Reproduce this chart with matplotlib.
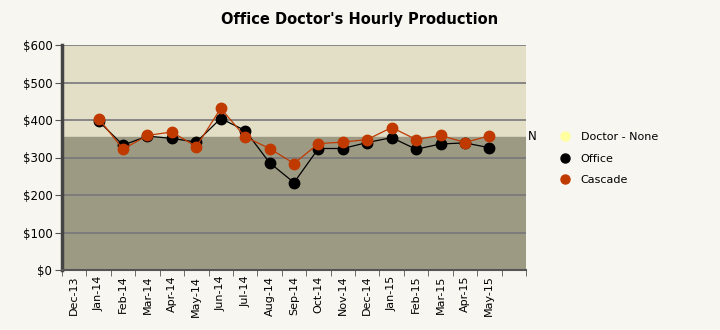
import numpy as np
import matplotlib.pyplot as plt
from matplotlib.lines import Line2D

# monthly hourly production, Dec-13 .. May-15 (Dec-13 has no data)
months = ['Dec-13', 'Jan-14', 'Feb-14', 'Mar-14', 'Apr-14', 'May-14', 'Jun-14',
          'Jul-14', 'Aug-14', 'Sep-14', 'Oct-14', 'Nov-14', 'Dec-14', 'Jan-15',
          'Feb-15', 'Mar-15', 'Apr-15', 'May-15']
office = [np.nan, 397, 333, 357, 351, 341, 404, 372, 286, 233, 324, 324, 340,
          353, 322, 336, 339, 326]
cascade = [np.nan, 404, 322, 359, 368, 329, 431, 355, 324, 284, 337, 341, 348,
           380, 348, 359, 340, 358]
band_level = 355   # "N" reference band
y_ticks = [0, 100, 200, 300, 400, 500, 600]

bg = '#f8f6f0'
light = '#e3dec6'
dark = '#9d9a84'
rust = '#c03a00'

fig = plt.figure(figsize=(7.2, 3.3), dpi=100, facecolor=bg)
ax = fig.add_axes([62/720, 60/330, 464/720, 225/330])
ax.set_facecolor(light)

x = np.arange(len(months))
ax.set_xlim(-0.5, 18.06)
ax.set_ylim(0, 600)

# shaded band below the reference level
ax.axhspan(0, band_level, color=dark, zorder=0)
for v in y_ticks[1:]:
    ax.axhline(v, color='#77777a', lw=1.2, zorder=1)

ax.plot(x, office, color='black', lw=0.9, marker='o', ms=7.5, zorder=3)
ax.plot(x, cascade, color=rust, lw=0.9, marker='o', ms=7.5, zorder=4)

ax.set_yticks(y_ticks)
ax.set_yticklabels(['$%d' % v for v in y_ticks], fontsize=8.5)
ax.set_xticks(x)
ax.set_xticklabels(months, rotation=90, fontsize=8)
ax.set_xticks(np.arange(-0.5, 18.6, 1), minor=True)
ax.tick_params(axis='x', which='major', length=0, pad=4)
ax.tick_params(axis='x', which='minor', length=4, color='#555555')
ax.tick_params(axis='y', length=5, color='#555555', pad=2)

for side in ['top', 'right']:
    ax.spines[side].set_visible(False)
ax.spines['left'].set_color('#444444')
ax.spines['left'].set_linewidth(2.5)
ax.spines['bottom'].set_color('#555555')
ax.spines['bottom'].set_linewidth(1.5)

ax.annotate('N', xy=(1.003, band_level), xycoords=('axes fraction', 'data'),
            fontsize=8.5, va='center', ha='left', annotation_clip=False)

fig.text(0.5, 0.94, "Office Doctor's Hourly Production", ha='center',
         va='center', fontsize=10.5, fontweight='bold')

handles = [Line2D([], [], ls='none', marker='o', ms=6.5, color='#ffffa0'),
           Line2D([], [], ls='none', marker='o', ms=6.5, color='black'),
           Line2D([], [], ls='none', marker='o', ms=6.5, color=rust)]
fig.legend(handles, ['Doctor - None', 'Office', 'Cascade'], loc='upper left',
           bbox_to_anchor=(544/720, 1 - 122/330), frameon=False, fontsize=8,
           handletextpad=0.4, labelspacing=1.05)

fig.savefig('out.png', dpi=100, facecolor=bg)
